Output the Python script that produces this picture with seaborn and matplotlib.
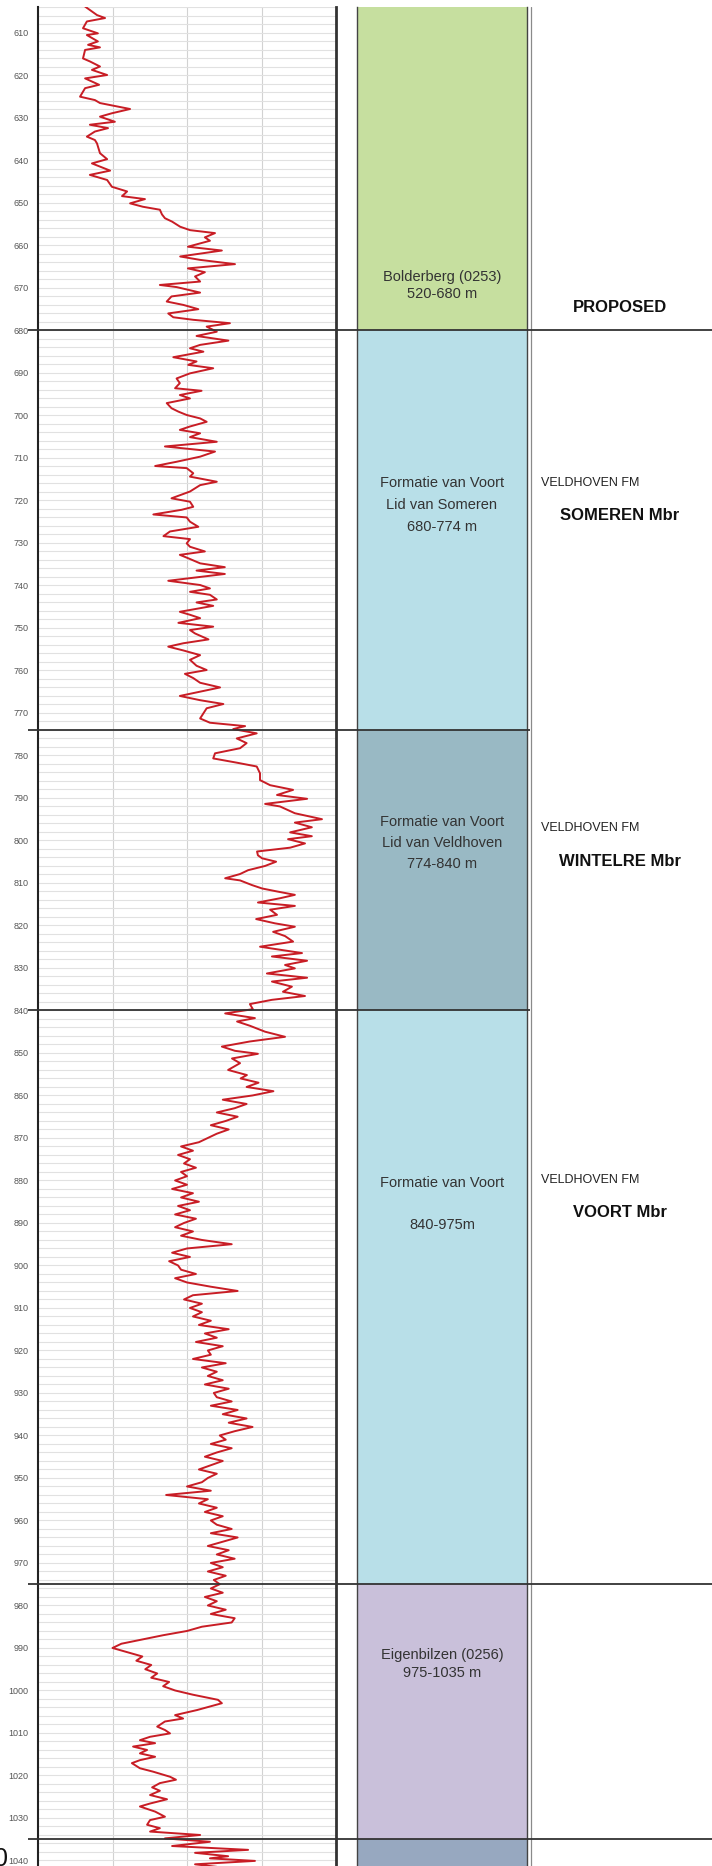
import numpy as np
import pandas as pd
import matplotlib
matplotlib.use("Agg")
import matplotlib.pyplot as plt
import seaborn as sns

# gamma-ray style log (0-100 across the track) per unit
depth_bolderberg = [603.8, 605.8, 606.5, 607.3, 608.9, 610.1, 610.5, 612.0, 612.8, 613.4,
                    614.0, 616.0, 616.7, 617.9, 618.7, 619.9, 620.7, 622.2, 623.0, 625.0,
                    625.8, 626.5, 627.9, 628.9, 629.7, 630.9, 631.6, 632.4, 633.2, 634.4,
                    635.2, 636.0, 638.3, 639.7, 640.7, 642.4, 643.4, 644.6, 646.2, 647.3,
                    648.4, 649.1, 650.1, 650.9, 651.6, 652.7, 653.6, 654.4, 655.6, 656.4,
                    657.1, 658.1, 658.9, 660.3, 661.2, 662.6, 663.4, 664.4, 665.4, 666.3,
                    667.3, 668.5, 669.3, 669.8, 671.1, 672.0, 673.2, 674.0, 675.0, 676.0,
                    676.9, 677.5, 678.3, 679.1, 680.3]
gr_bolderberg = [15.8, 19.8, 22.5, 16.4, 15.1, 20.1, 16.4, 20.1, 16.8, 20.8,
                 15.8, 15.1, 17.4, 20.8, 18.1, 23.2, 15.8, 20.5, 15.8, 14.1,
                 19.1, 20.8, 30.9, 24.8, 20.8, 25.8, 17.4, 23.5, 19.1, 16.4,
                 19.1, 19.8, 20.8, 23.2, 18.1, 24.2, 17.4, 23.2, 24.8, 29.9,
                 28.2, 35.9, 30.9, 35.2, 40.9, 41.6, 42.6, 45.0, 47.7, 51.0,
                 59.4, 56.0, 57.7, 50.3, 61.7, 47.7, 54.4, 66.1, 50.3, 56.0,
                 52.7, 54.4, 40.9, 46.5, 54.4, 44.8, 43.2, 48.8, 53.8, 43.7,
                 45.4, 52.1, 64.4, 56.6, 60.0]

depth_someren = [681.3, 682.4, 683.4, 684.2, 685.0, 686.3, 687.3, 688.1, 688.9, 690.1,
                 691.3, 692.4, 693.6, 694.2, 695.2, 696.0, 697.1, 698.3, 699.1, 699.9,
                 700.7, 701.5, 702.6, 703.4, 704.2, 705.1, 706.2, 707.3, 708.5, 709.7,
                 710.9, 711.9, 712.4, 713.6, 714.4, 715.6, 716.4, 717.9, 719.5, 720.3,
                 721.5, 722.2, 723.3, 724.0, 725.0, 726.2, 727.3, 728.4, 729.1, 730.1,
                 730.9, 732.0, 732.8, 733.6, 734.8, 735.7, 736.5, 737.3, 738.2, 738.9,
                 739.9, 740.7, 741.5, 742.2, 743.3, 744.0, 744.8, 746.2, 746.9, 747.7,
                 748.8, 749.7, 750.5, 751.3, 752.7, 753.6, 754.4, 755.3, 756.4, 757.5,
                 758.9, 759.9, 760.8, 761.8, 762.9, 764.0, 765.0, 766.0, 767.0, 767.9,
                 768.9, 770.1, 771.3, 772.3, 773.1, 773.8]
gr_someren = [53.2, 63.9, 54.4, 51.0, 55.5, 45.4, 53.2, 50.4, 58.8, 51.0,
              46.5, 47.6, 46.0, 54.9, 47.6, 51.0, 43.2, 44.8, 47.1, 49.9,
              54.4, 56.6, 51.0, 47.6, 54.4, 51.0, 60.0, 42.6, 59.4, 54.4,
              46.5, 39.3, 49.9, 52.1, 51.0, 60.0, 54.4, 51.0, 44.8, 51.0,
              52.1, 48.2, 38.7, 49.9, 51.0, 53.8, 44.3, 42.1, 51.0, 49.9,
              51.0, 56.0, 47.6, 50.4, 54.4, 62.7, 53.2, 62.7, 52.1, 43.7,
              54.4, 57.7, 51.0, 57.7, 60.0, 53.2, 58.8, 47.6, 51.0, 54.4,
              47.1, 58.8, 51.0, 52.7, 57.2, 48.8, 43.7, 48.8, 54.4, 51.0,
              53.2, 56.6, 49.3, 52.1, 54.4, 61.1, 54.4, 47.6, 54.4, 62.2,
              56.6, 55.5, 54.4, 57.7, 69.5, 65.5]

depth_veldhoven = [774.8, 776.0, 777.1, 778.3, 779.5, 780.7, 781.7, 782.6, 784.2,
                   785.8, 787.0, 788.1, 789.3, 790.2, 791.4, 792.0, 793.6, 795.0, 795.8,
                   796.9, 798.1, 799.0, 799.7, 800.7, 801.7, 802.6, 803.5, 804.2, 805.0,
                   806.0, 807.0, 807.9, 808.9, 809.4, 810.5, 811.3, 812.0, 812.8, 813.6,
                   814.6, 815.4, 816.3, 817.5, 818.5, 819.5, 820.3, 821.5, 822.5, 823.8,
                   825.0, 826.5, 827.3, 828.3, 829.3, 830.1, 831.3, 832.3, 833.2, 834.4,
                   835.6, 836.6, 837.5, 838.5, 839.7]
gr_veldhoven = [73.4, 66.7, 70.0, 67.8, 59.4, 58.8, 66.7, 73.4, 74.5,
                74.5, 77.9, 85.6, 80.2, 90.3, 76.2, 81.2, 86.2, 95.3, 86.2,
                91.9, 84.6, 91.9, 83.9, 89.6, 84.6, 73.5, 73.8, 75.2, 79.9,
                76.2, 70.5, 67.8, 62.8, 67.8, 71.8, 75.2, 80.2, 86.2, 81.2,
                73.8, 86.2, 77.9, 80.2, 73.2, 79.5, 86.2, 78.9, 82.9, 85.6,
                74.5, 88.6, 78.5, 90.3, 82.9, 86.2, 76.8, 90.3, 78.5, 85.2,
                82.2, 89.6, 78.5, 71.1, 72.1]

depth_voort = [840.7, 841.8, 842.6, 843.6, 845.0, 846.2, 847.3, 848.5, 849.5, 850.2,
               851.3, 852.4, 854.0, 855.2] + list(range(856, 976))
gr_voort = [62.8, 72.8, 66.8, 71.1, 76.2, 82.9, 71.1, 61.7, 66.1, 73.8,
            65.1, 67.8, 63.8, 70.1,
            68, 74, 70, 79, 72,
            62, 70, 66, 60, 67, 63, 58, 64, 60, 57,
            54, 48, 52, 47, 51, 49, 53, 48, 50, 46,
            50, 45, 52, 48, 54, 47, 51, 46, 53, 49,
            46, 52, 48, 55, 65, 50, 45, 51, 44, 47,
            48, 53, 46, 50, 58, 67, 52, 49, 55, 51,
            55, 52, 58, 54, 64, 56, 60, 53, 62, 57,
            58, 52, 63, 55, 60, 57, 62, 56, 64, 59,
            60, 65, 58, 67, 62, 70, 64, 72, 66, 61,
            63, 58, 65, 60, 56, 62, 58, 54, 60, 57,
            55, 50, 58, 43, 57, 54, 60, 56, 62, 58,
            60, 65, 58, 67, 62, 57, 64, 60, 66, 58,
            62, 57, 63, 59, 61]

depth_eigenbilzen = list(range(976, 1002)) + [
    1002.2, 1003.0, 1004.6, 1005.8, 1006.6, 1007.3, 1008.5, 1009.3, 1010.1, 1010.9,
    1011.7, 1012.4, 1013.2, 1014.0, 1014.8, 1015.6, 1016.4, 1017.1, 1018.3, 1019.1,
    1020.3, 1021.0, 1021.8, 1022.8, 1023.6, 1024.6, 1025.6, 1026.6, 1027.3, 1028.5,
    1029.7, 1030.5, 1031.6, 1032.4, 1033.2, 1034.0, 1034.8]
gr_eigenbilzen = [58, 62, 56, 60, 57, 63, 58, 66, 65, 55, 50, 42, 35, 28,
                  25, 30, 35, 33, 38, 36, 40, 38, 44, 42, 46, 52,
                  60.4, 61.7, 53.4, 46.0, 48.7, 42.6, 40.0, 42.6, 44.3, 37.6,
                  34.2, 39.3, 31.9, 36.6, 34.2, 39.3, 34.2, 31.5, 34.2, 38.6,
                  44.3, 46.3, 40.9, 38.3, 40.9, 37.6, 43.3, 37.6, 34.2, 39.3,
                  42.6, 37.6, 36.6, 40.9, 37.6, 54.4, 42.6]

depth_base = [1035.6, 1036.6, 1037.5, 1038.2, 1039.0, 1039.5, 1040.1, 1040.9, 1041.5]
gr_base = [57.7, 45.0, 70.5, 52.7, 63.8, 57.7, 72.8, 52.7, 60.0]

# lithostratigraphic units
unit_top = [603.9, 680, 774, 840, 975, 1035]
unit_base = [680, 774, 840, 975, 1035, 1041.3]
unit_colors = ["#c6df9f", "#b8dfe8", "#99b9c4", "#b8dfe8", "#c9c0da", "#97a8c0"]
unit_text = [
    [("Bolderberg (0253)", 667.4), ("520-680 m", 671.4)],
    [("Formatie van Voort", 715.9), ("Lid van Someren", 721.1), ("680-774 m", 726.2)],
    [("Formatie van Voort", 795.6), ("Lid van Veldhoven", 800.5), ("774-840 m", 805.5)],
    [("Formatie van Voort", 880.7), ("840-975m", 890.5)],
    [("Eigenbilzen (0256)", 991.6), ("975-1035 m", 995.8)],
    [],
]
boundary_depth = [680, 774, 840, 975, 1035]
boundary_end = [712, 530, 530, 712, 712]

proposed_small = [("VELDHOVEN FM", 715.9), ("VELDHOVEN FM", 797.1), ("VELDHOVEN FM", 879.9)]
proposed_bold = [("PROPOSED", 674.5), ("SOMEREN Mbr", 723.6), ("WINTELRE Mbr", 805.0),
                 ("VOORT Mbr", 887.6)]

log = pd.DataFrame({
    "depth": np.concatenate([depth_bolderberg, depth_someren, depth_veldhoven,
                             depth_voort, depth_eigenbilzen, depth_base]),
    "gr": np.concatenate([gr_bolderberg, gr_someren, gr_veldhoven,
                          gr_voort, gr_eigenbilzen, gr_base]),
})

sns.set_style("white")
plt.rcParams["font.family"] = ["Liberation Sans", "DejaVu Sans"]

W, H = 712, 1866
TOP = 1 - 7 / H
YLIM = (1041.3, 603.9)

fig = plt.figure(figsize=(W / 100, H / 100), dpi=100)

# log track
ax = fig.add_axes([38 / W, 0, 298 / W, TOP])
ax.set_axisbelow(True)
sns.lineplot(data=log, x="gr", y="depth", sort=False, estimator=None,
             color="#c81d25", lw=1.4, ax=ax)
ax.set_xlim(0, 100)
ax.set_ylim(*YLIM)
ax.set_xticks([25, 50, 75])
ax.set_yticks(np.arange(610, 1041, 10))
ax.set_yticks(np.arange(604, 1042, 2), minor=True)
ax.grid(axis="x", color="#d2d2d2", lw=0.8)
ax.grid(axis="y", which="both", color="#e1e1e1", lw=0.8)
ax.tick_params(axis="x", length=0, labelbottom=False)
ax.tick_params(axis="y", which="major", length=4, width=0.8, color="#333333",
               labelsize=6.5, labelcolor="#555555", pad=3)
ax.tick_params(axis="y", which="minor", length=3.5, width=0.8, color="#333333")
ax.set_xlabel("")
ax.set_ylabel("")
for side in ["top", "bottom"]:
    ax.spines[side].set_visible(False)
ax.spines["left"].set_color("#222222")
ax.spines["left"].set_linewidth(1.5)
ax.spines["right"].set_color("#333333")
ax.spines["right"].set_linewidth(2)

# formation column
fm = fig.add_axes([357 / W, 0, 170 / W, TOP])
mid = [(t + b) / 2 for t, b in zip(unit_top, unit_base)]
thick = [b - t for t, b in zip(unit_top, unit_base)]
fm.barh(mid, width=1, height=thick, left=0, color=unit_colors, edgecolor="none")
fm.set_xlim(0, 1)
fm.set_ylim(*YLIM)
fm.set_xticks([])
fm.set_yticks([])
for side in ["top", "bottom"]:
    fm.spines[side].set_visible(False)
for side in ["left", "right"]:
    fm.spines[side].set_color("#444444")
    fm.spines[side].set_linewidth(1)

# overlay for boundaries and annotations
ov = fig.add_axes([0, 0, 1, TOP], zorder=5)
ov.patch.set_visible(False)
ov.set_xlim(0, W)
ov.set_ylim(*YLIM)
ov.axis("off")
ov.axvline(530.5, color="#8a8a8a", lw=0.9)
ov.hlines(boundary_depth, 28, boundary_end, color="#333333", lw=1.3)

for lines in unit_text:
    for txt, d in lines:
        ov.text(442, d, txt, ha="center", va="center", fontsize=10.5, color="#333333")
for txt, d in proposed_small:
    ov.text(541, d, txt, ha="left", va="center", fontsize=9, color="#222222")
for txt, d in proposed_bold:
    ov.text(620, d, txt, ha="center", va="center", fontsize=12, color="#111111",
            fontweight="bold")

fig.text(1 / W, 1 - 1847 / H, "0", ha="center", va="top", fontsize=18, color="#111111")

fig.savefig("out.png", dpi=100)
